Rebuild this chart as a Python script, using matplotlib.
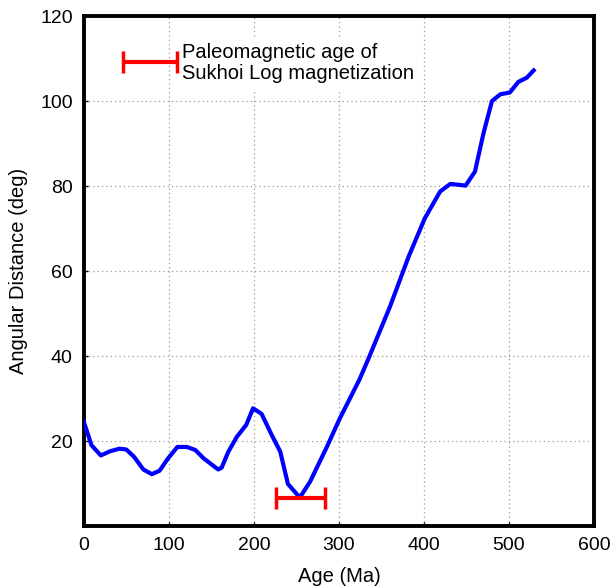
import numpy as np
import matplotlib
matplotlib.use('Agg')
import matplotlib.pyplot as plt

plt.rcParams['font.family'] = ['Liberation Sans', 'DejaVu Sans']

# angular distance curve
age = [0, 9, 20, 31, 42, 50, 59, 70, 80, 89, 99, 110, 121, 131, 141, 158, 162,
       170, 180, 191, 199, 209, 221, 231, 240, 254, 266, 286, 301, 324, 335,
       360, 382, 401, 419, 431, 449, 460, 470, 480, 490, 501, 511, 521, 529]
dist = [24.5, 19, 16.6, 17.6, 18.2, 18, 16.3, 13.3, 12.2, 13, 15.9, 18.6, 18.6,
        17.9, 15.9, 13.3, 13.7, 17.5, 21, 23.8, 27.7, 26.4, 21.4, 17.5, 9.9, 6.7,
        10.4, 18.7, 25.3, 34.4, 39.5, 51.6, 63.4, 72.4, 78.7, 80.5, 80.1, 83.4,
        92.4, 100, 101.6, 102, 104.5, 105.5, 107.2]

# paleomagnetic age of Sukhoi Log magnetization
pmag_age = 255
pmag_err = 29
pmag_y = 6.5
legend_text = 'Paleomagnetic age of\nSukhoi Log magnetization'

fig = plt.figure(figsize=(6.12, 5.87), dpi=100)
ax = fig.add_axes([0.137, 0.1039, 0.8336, 0.8688])

ax.plot(age, dist, color='#0000ff', lw=3, zorder=3)
ax.errorbar([pmag_age], [pmag_y], xerr=[pmag_err], fmt='none', ecolor='#ff0000',
            elinewidth=3, capsize=8, capthick=2.5, zorder=4)

# legend drawn by hand: white box, red bar, two-line text
ax.text(116, 113.6, legend_text, fontsize=14.5, va='top', ha='left', zorder=5,
        linespacing=1.15,
        bbox=dict(boxstyle='square,pad=0.25', fc='white', ec='none'))
ax.errorbar([77.5], [109.1], xerr=[31.5], fmt='none', ecolor='#ff0000',
            elinewidth=3, capsize=8, capthick=2.5, zorder=6)

ax.set_xlim(0, 600)
ax.set_ylim(0, 120)
ax.set_xticks(range(0, 601, 100))
ax.set_yticks(range(20, 121, 20))
ax.grid(True, linestyle=(0, (1, 2.5)), color='#999999', lw=0.9)
ax.tick_params(direction='in', length=3, width=1, labelsize=14, pad=8)
for s in ax.spines.values():
    s.set_linewidth(2.8)

ax.set_xlabel('Age (Ma)', fontsize=14.5, labelpad=9)
ax.set_ylabel('Angular Distance (deg)', fontsize=14.5, labelpad=9)

fig.savefig('out.png', dpi=100)
